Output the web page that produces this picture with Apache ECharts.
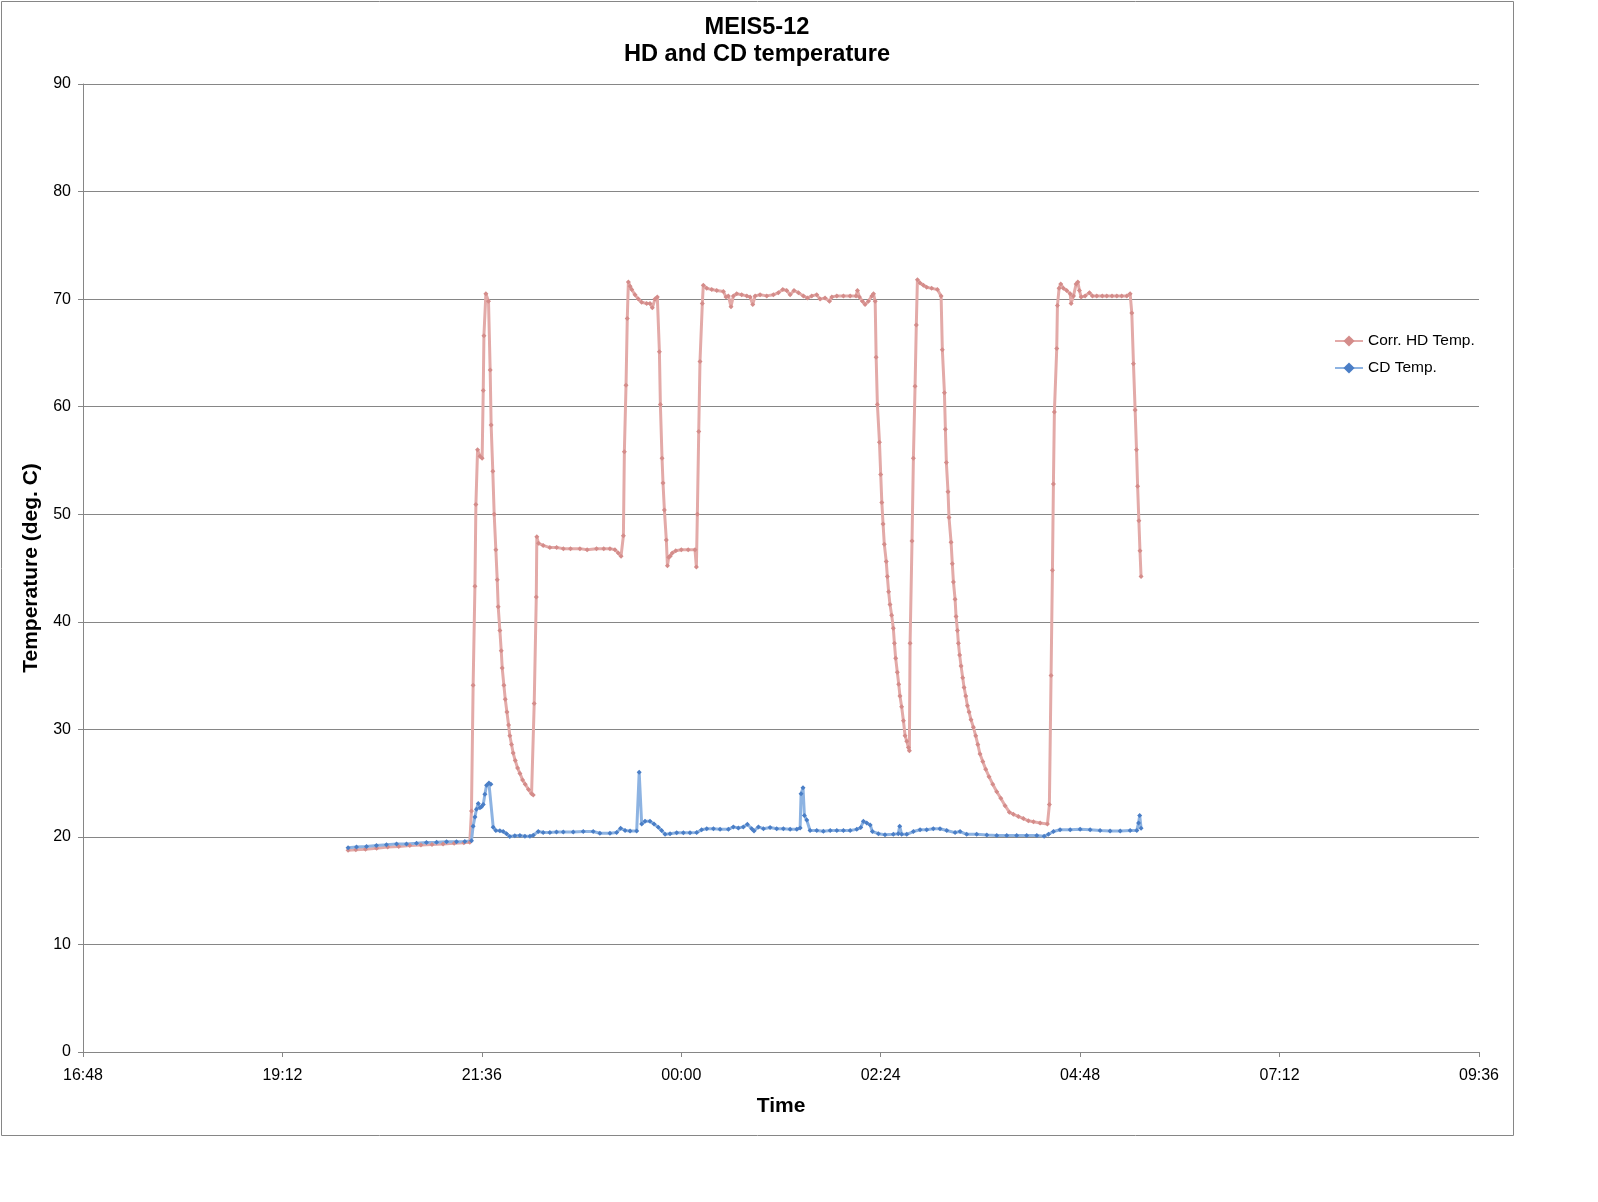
<!DOCTYPE html>
<html>
<head>
<meta charset="utf-8">
<script src="https://cdn.jsdelivr.net/npm/echarts@6/dist/echarts.min.js"></script>
<style>
html,body{margin:0;padding:0;background:#fff;}
#chart{width:1598px;height:1202px;}
</style>
</head>
<body>
<div id="chart"></div>
<script>
// x values: minutes since midnight of the first day (16:48 = 1008, 09:36 next day = 2016)
const xTickLabels = ['16:48','19:12','21:36','00:00','02:24','04:48','07:12','09:36'];
const xMin = 1008, xMax = 2016, xStep = 144;

const hdTime = [1199.4,1205,1212,1220,1228,1236,1244,1252,1260,1268,1276,1283,1287.3,
1288.5,1289.7,1291.0,1291.7,1292.9,1294.6,1296.2,1297.0,1297.5,1298.9,1300.8,1302.0,1302.7,1303.9,1304.9,1306.1,1307.1,1307.8,1309.0,1310.0,1310.7,1311.9,1312.9,1314.1,1315.3,1316.2,1317.4,1318.6,1320.1,1321.8,1323.5,1325.4,1327.3,1329.7,1331.9,1333.1,1333.8,1335.3,1335.7,1336.9,1340.3,1345.1,1350,1354.8,1360,1366.8,1372,1378.8,1384,1388.5,1392.1,1394.5,1396.5,1398.2,1398.9,1400.1,1401.0,1401.8,1403.0,1404.2,1406.6,1409.0,1411.4,1415.0,1417.4,1419.1,1421.0,1422.7,1424.2,1424.9,1426.1,1426.8,1427.8,1429.2,1430.0,1430.9,1432.0,1433.5,1436,1440,1445,1449.9,1450.9,1451.6,1452.6,1453.5,1455.2,1455.9,1458.4,1462.0,1465.6,1470.4,1472.3,1474.0,1475.9,1477.6,1480.0,1483.6,1487.3,1489.7,1491.6,1493.3,1496.9,1501.7,1506.5,1510.1,1513.3,1516.1,1518.6,1521.4,1524.6,1528.2,1531.1,1534.2,1537.8,1540.2,1543.8,1547.0,1548.7,1552.3,1557.1,1561.9,1566.2,1567.2,1568.6,1570.8,1572.7,1575.1,1577.6,1578.8,1580.0,1580.7,1581.6,1583.1,1584.0,1584.8,1585.7,1586.6,1588.0,1588.8,1589.7,1590.7,1591.9,1593.1,1593.9,1594.8,1596.0,1597.0,1597.9,1599.1,1600.4,1601.6,1602.8,1604.0,1604.7,1605.2,1606.6,1607.6,1608.8,1609.7,1610.5,1612.4,1614.8,1617.2,1620.8,1624.9,1627.6,1628.5,1630.0,1630.7,1631.4,1632.6,1633.3,1634.8,1635.7,1636.5,1637.7,1638.4,1639.4,1640.1,1641.0,1642.0,1643.2,1644.2,1645.4,1646.6,1647.8,1649.2,1650.9,1652.6,1654.1,1655.7,1657.7,1659.8,1662.2,1664.9,1667.8,1670.7,1673.8,1676.9,1679.8,1683.4,1687.0,1690.6,1694.3,1699.1,1704.4,1705.8,1707.0,1708.0,1708.7,1709.4,1711.1,1711.6,1712.8,1714.0,1715.9,1718.3,1720.8,1721.5,1723.2,1725.1,1726.3,1727.5,1728.7,1731.6,1734.7,1736.9,1740.0,1744,1747.2,1751,1754.5,1758,1761.7,1764.1,1765.3,1766.5,1767.7,1768.7,1769.5,1770.4,1771.2,1772.0];
const hdTemp = [18.75,18.8,18.85,18.95,19.05,19.1,19.2,19.25,19.3,19.35,19.4,19.45,19.5,
22.4,34.1,43.3,50.9,56.0,55.4,55.2,61.5,66.6,70.5,69.8,63.4,58.3,54.0,50.0,46.7,43.9,41.4,39.2,37.3,35.7,34.1,32.8,31.6,30.4,29.4,28.6,27.8,27.1,26.4,25.9,25.3,24.9,24.4,24.0,23.9,32.4,42.3,47.9,47.3,47.1,46.9,46.9,46.8,46.8,46.8,46.7,46.8,46.8,46.8,46.7,46.4,46.1,48.0,55.8,62.0,68.2,71.6,71.2,70.9,70.4,70.0,69.7,69.6,69.6,69.2,70.0,70.2,65.1,60.2,55.2,52.9,50.4,47.6,45.2,46.0,46.1,46.4,46.6,46.7,46.7,46.7,45.1,50.0,57.7,64.2,69.6,71.3,71.0,70.9,70.8,70.7,70.2,70.3,69.3,70.3,70.5,70.4,70.3,70.2,69.5,70.3,70.4,70.3,70.4,70.6,70.9,70.8,70.4,70.8,70.6,70.3,70.1,70.3,70.4,70.0,70.1,69.8,70.2,70.3,70.3,70.3,70.3,70.8,70.2,69.8,69.5,69.8,70.3,70.5,69.8,64.6,60.2,56.7,53.7,51.1,49.1,47.2,45.6,44.2,42.8,41.6,40.6,39.4,38.0,36.6,35.3,34.2,33.1,32.1,30.8,29.4,28.9,28.3,28.0,38.0,47.5,55.2,61.9,67.6,71.8,71.5,71.3,71.1,71.0,70.9,70.3,65.3,61.3,57.9,54.8,52.1,49.7,47.4,45.4,43.7,42.1,40.5,39.2,38.0,36.9,35.9,34.8,33.9,33.1,32.2,31.6,30.9,30.2,29.4,28.6,27.7,27.0,26.3,25.6,24.9,24.2,23.6,22.9,22.3,22.1,21.9,21.7,21.5,21.4,21.3,21.2,23.0,35.0,44.8,52.8,59.5,65.4,69.4,71.0,71.4,71.0,70.8,70.5,69.6,70.3,71.4,71.6,70.8,70.2,70.3,70.6,70.3,70.3,70.3,70.3,70.3,70.3,70.3,70.3,70.5,68.7,64.0,59.7,56.0,52.6,49.4,46.6,44.2];

const cdTime = [1199.4,1205.5,1212.7,1219.9,1227.1,1234.4,1241.6,1248.8,1256.0,1263.3,1270.5,1277.7,1283.7,1288.5,1289.7,1291.0,1292.1,1293.4,1294.6,1295.8,1297.0,1298.2,1299.4,1301.1,1302.5,1304.2,1306.1,1309.0,1311.4,1313.8,1316.2,1319.8,1323.5,1327.1,1330.7,1333.1,1336.7,1340.3,1345.1,1349.9,1354.8,1362.0,1369.2,1376.4,1381.2,1388.5,1393.3,1396.2,1399.4,1403.0,1407.8,1409.6,1411.4,1413.8,1417.4,1420.3,1423.4,1425.8,1428.3,1431.9,1436.7,1441.5,1446.3,1451.1,1454.7,1458.4,1463.2,1468.0,1474.0,1477.6,1481.2,1484.8,1487.7,1490.9,1492.5,1495.7,1499.3,1504.1,1508.9,1513.7,1518.6,1523.4,1525.8,1526.5,1527.9,1528.9,1530.6,1533.0,1537.8,1542.6,1547.5,1552.3,1557.1,1561.9,1566.7,1569.6,1571.5,1573.9,1576.4,1578.0,1582.3,1587.1,1593.1,1596.7,1597.7,1599.1,1602.8,1607.6,1612.4,1617.2,1622.0,1626.8,1631.7,1637.7,1641.3,1646.1,1653.3,1660.6,1667.8,1675.0,1682.2,1689.4,1696.7,1702.0,1705.1,1708.7,1713.5,1720.8,1728.0,1735.2,1742.4,1749.6,1756.9,1764.1,1768.9,1770.2,1771.0,1772.0];
const cdTemp = [19.0,19.07,19.1,19.2,19.26,19.35,19.35,19.4,19.47,19.5,19.54,19.54,19.57,19.63,21.0,21.86,22.57,23.1,22.7,22.8,23.0,23.96,24.8,25.0,24.9,20.9,20.6,20.56,20.5,20.3,20.03,20.1,20.12,20.06,20.06,20.15,20.5,20.4,20.4,20.46,20.46,20.46,20.5,20.5,20.34,20.34,20.4,20.8,20.6,20.55,20.55,26.0,21.2,21.45,21.45,21.2,20.9,20.6,20.24,20.3,20.38,20.38,20.38,20.4,20.66,20.76,20.76,20.72,20.7,20.93,20.83,20.93,21.18,20.76,20.55,20.93,20.76,20.87,20.76,20.76,20.7,20.7,20.83,24.0,24.57,22.0,21.56,20.6,20.6,20.52,20.6,20.6,20.6,20.6,20.7,20.87,21.45,21.3,21.1,20.5,20.3,20.2,20.24,20.3,21.0,20.24,20.24,20.5,20.66,20.66,20.76,20.76,20.6,20.4,20.5,20.24,20.24,20.17,20.14,20.14,20.14,20.14,20.14,20.07,20.24,20.5,20.66,20.66,20.7,20.66,20.6,20.55,20.55,20.6,20.6,21.3,22.0,20.8];

const zip = (a, b) => a.map((t, i) => [t, b[i]]);
const FONT = 'Liberation Sans, Arial, sans-serif';
const GRID_GRAY = '#868686';

const chart = echarts.init(document.getElementById('chart'), null, {renderer: 'canvas'});
chart.setOption({
  animation: false,
  backgroundColor: '#ffffff',
  title: {
    text: 'MEIS5-12\nHD and CD temperature',
    left: 752,
    top: 9,
    textAlign: 'center',
    textStyle: {fontFamily: FONT, fontSize: 23.6, fontWeight: 'bold', color: '#000', lineHeight: 27}
  },
  graphic: [{
    type: 'rect',
    shape: {x: 1.5, y: 1.5, width: 1512, height: 1134},
    style: {fill: 'none', stroke: GRID_GRAY, lineWidth: 1},
    silent: true, z: -1
  }],
  legend: {
    orient: 'vertical',
    left: 1329,
    top: 328,
    itemWidth: 28,
    itemHeight: 14,
    itemGap: 11,
    textStyle: {fontFamily: FONT, fontSize: 15.5, color: '#000'},
    data: ['Corr. HD Temp.', 'CD Temp.']
  },
  grid: {left: 83, right: 119, top: 84, bottom: 150, containLabel: false},
  xAxis: {
    type: 'value',
    min: xMin, max: xMax, interval: xStep,
    name: 'Time',
    nameLocation: 'middle',
    nameGap: 44,
    nameTextStyle: {fontFamily: FONT, fontSize: 21, fontWeight: 'bold', color: '#000'},
    axisLine: {show: true, lineStyle: {color: GRID_GRAY, width: 1}},
    axisTick: {show: true, inside: false, length: 5, lineStyle: {color: GRID_GRAY}},
    axisLabel: {
      fontFamily: FONT, fontSize: 16, color: '#000', margin: 16,
      showMinLabel: true, showMaxLabel: true,
      formatter: v => xTickLabels[Math.round((v - xMin) / xStep)] || ''
    },
    splitLine: {show: false}
  },
  yAxis: {
    type: 'value',
    min: 0, max: 90, interval: 10,
    name: 'Temperature (deg. C)',
    nameLocation: 'middle',
    nameRotate: 90,
    nameGap: 41,
    nameTextStyle: {fontFamily: FONT, fontSize: 21, fontWeight: 'bold', color: '#000'},
    axisLine: {show: true, lineStyle: {color: GRID_GRAY, width: 1}},
    axisTick: {show: true, inside: false, length: 5, lineStyle: {color: GRID_GRAY}},
    axisLabel: {fontFamily: FONT, fontSize: 16, color: '#000', margin: 12},
    splitLine: {show: true, lineStyle: {color: GRID_GRAY, width: 1}}
  },
  series: [
    {
      name: 'Corr. HD Temp.',
      type: 'line',
      data: zip(hdTime, hdTemp),
      symbol: 'diamond',
      symbolSize: 5,
      showAllSymbol: true,
      itemStyle: {color: '#D48C8A'},
      lineStyle: {color: '#E3AAA8', width: 3}
    },
    {
      name: 'CD Temp.',
      type: 'line',
      data: zip(cdTime, cdTemp),
      symbol: 'diamond',
      symbolSize: 5,
      showAllSymbol: true,
      itemStyle: {color: '#4A7EC6'},
      lineStyle: {color: '#8DB3E2', width: 3}
    }
  ]
});
</script>
</body>
</html>
